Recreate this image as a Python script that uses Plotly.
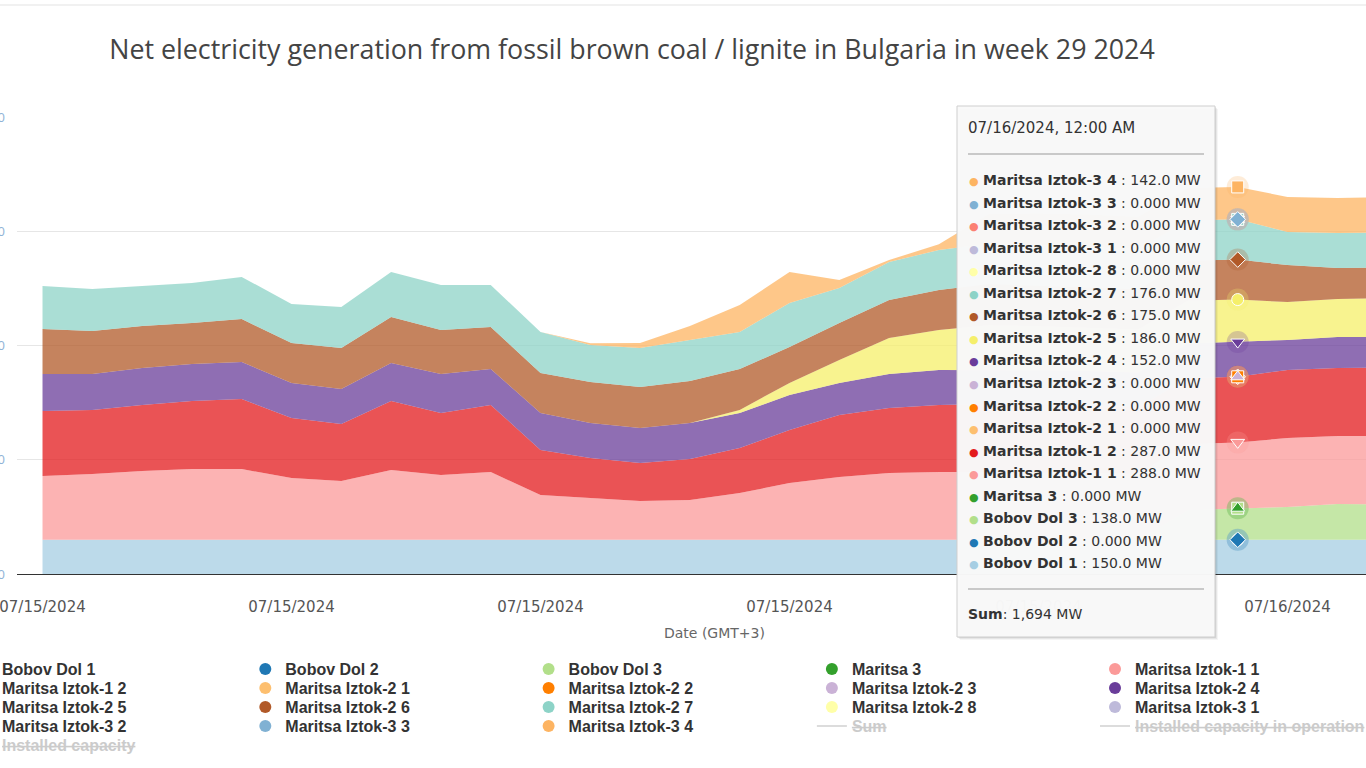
import numpy as np
import pandas as pd
import plotly.graph_objects as go

# ---------------- data (hourly, MW) ----------------
times = pd.date_range("2024-07-15 00:00", periods=28, freq="h")

bobov_dol_1 = [150, 150, 150, 150, 150, 150, 150, 150, 150, 150, 150, 150, 150, 150,
               150, 150, 150, 150, 150, 150, 150, 150, 150, 150, 150, 150, 150, 150]
bobov_dol_2 = [0, 0, 0, 0, 0, 0, 0, 0, 0, 0, 0, 0, 0, 0,
               0, 0, 0, 0, 0, 0, 0, 0, 0, 0, 0, 0, 0, 0]
bobov_dol_3 = [0, 0, 0, 0, 0, 0, 0, 0, 0, 0, 0, 0, 0, 0,
               0, 0, 0, 0, 0, 0, 0, 0, 0, 130, 138, 143, 156, 155]
maritsa_3 = [0, 0, 0, 0, 0, 0, 0, 0, 0, 0, 0, 0, 0, 0,
             0, 0, 0, 0, 0, 0, 0, 0, 0, 0, 0, 0, 0, 0]
iztok1_1 = [279, 288, 301, 309, 309, 270, 257, 305, 283, 296, 196, 183, 169, 174,
            204, 248, 274, 292, 296, 296, 295, 293, 290, 289, 288, 302, 298, 298]
iztok1_2 = [284, 280, 289, 298, 307, 263, 249, 302, 272, 294, 197, 175, 167, 179,
            197, 232, 272, 284, 294, 298, 296, 293, 290, 288, 287, 298, 298, 300]
iztok2_1 = [0, 0, 0, 0, 0, 0, 0, 0, 0, 0, 0, 0, 0, 0,
            0, 0, 0, 0, 0, 0, 0, 0, 0, 0, 0, 0, 0, 0]
iztok2_2 = [0, 0, 0, 0, 0, 0, 0, 0, 0, 0, 0, 0, 0, 0,
            0, 0, 0, 0, 0, 0, 0, 0, 0, 0, 0, 0, 0, 0]
iztok2_3 = [0, 0, 0, 0, 0, 0, 0, 0, 0, 0, 0, 0, 0, 0,
            0, 0, 0, 0, 0, 0, 0, 0, 0, 0, 0, 0, 0, 0]
iztok2_4 = [162, 157, 162, 162, 162, 153, 154, 166, 170, 157, 162, 153, 153, 158,
            154, 153, 140, 149, 153, 150, 151, 152, 152, 152, 152, 131, 135, 135]
iztok2_5 = [0, 0, 0, 0, 0, 0, 0, 0, 0, 0, 0, 0, 0, 0,
            13, 53, 101, 158, 175, 195, 192, 190, 188, 187, 186, 166, 167, 168]
iztok2_6 = [197, 188, 183, 179, 188, 175, 179, 202, 193, 184, 175, 179, 179, 184,
            179, 157, 161, 166, 175, 180, 178, 177, 176, 175, 175, 162, 135, 135]
iztok2_7 = [188, 184, 175, 176, 184, 171, 179, 197, 197, 184, 179, 162, 171, 179,
            162, 193, 154, 166, 175, 176, 176, 176, 176, 176, 176, 145, 153, 153]
iztok2_8 = [0, 0, 0, 0, 0, 0, 0, 0, 0, 0, 0, 0, 0, 0,
            0, 0, 0, 0, 0, 0, 0, 0, 0, 0, 0, 0, 0, 0]
iztok3_1 = [0, 0, 0, 0, 0, 0, 0, 0, 0, 0, 0, 0, 0, 0,
            0, 0, 0, 0, 0, 0, 0, 0, 0, 0, 0, 0, 0, 0]
iztok3_2 = [0, 0, 0, 0, 0, 0, 0, 0, 0, 0, 0, 0, 0, 0,
            0, 0, 0, 0, 0, 0, 0, 0, 0, 0, 0, 0, 0, 0]
iztok3_3 = [0, 0, 0, 0, 0, 0, 0, 0, 0, 0, 0, 0, 0, 0,
            0, 0, 0, 0, 0, 0, 0, 0, 0, 0, 0, 0, 0, 0]
iztok3_4 = [0, 0, 0, 0, 0, 0, 0, 0, 0, 0, 0, 8, 22, 61,
            118, 136, 35, 9, 25, 130, 140, 142, 142, 142, 142, 153, 154, 154]

series_names = ["Bobov Dol 1", "Bobov Dol 2", "Bobov Dol 3", "Maritsa 3",
                "Maritsa Iztok-1 1", "Maritsa Iztok-1 2", "Maritsa Iztok-2 1",
                "Maritsa Iztok-2 2", "Maritsa Iztok-2 3", "Maritsa Iztok-2 4",
                "Maritsa Iztok-2 5", "Maritsa Iztok-2 6", "Maritsa Iztok-2 7",
                "Maritsa Iztok-2 8", "Maritsa Iztok-3 1", "Maritsa Iztok-3 2",
                "Maritsa Iztok-3 3", "Maritsa Iztok-3 4"]
series_values = [bobov_dol_1, bobov_dol_2, bobov_dol_3, maritsa_3, iztok1_1, iztok1_2,
                 iztok2_1, iztok2_2, iztok2_3, iztok2_4, iztok2_5, iztok2_6, iztok2_7,
                 iztok2_8, iztok3_1, iztok3_2, iztok3_3, iztok3_4]
extra_names = ["Sum", "Installed capacity in operation", "Installed capacity"]

y_ticks = [0, 500, 1000, 1500, 2000]
hover_index = 24

# ---------------- styles ----------------
series_colors = ["#a6cee3", "#1f78b4", "#b2df8a", "#33a02c", "#fb9a99", "#e31a1c",
                 "#fdbf6f", "#ff7f00", "#cab2d6", "#6a3d9a", "#f5ef6a", "#b15928",
                 "#8dd3c7", "#ffffa8", "#bebada", "#fb8072", "#80b1d3", "#fdb462"]
symbol_cycle = ["circle", "diamond", "square", "triangle-up", "triangle-down"]

PL, PR, PT, PB = 17, 1366, 117, 574
W, H = 1366, 768


def xp(px):
    return (px - PL) / (PR - PL)


def yp(py):
    return (PB - py) / (PB - PT)


def rgba(hexc, a):
    h = hexc.lstrip("#")
    r, g, b = int(h[0:2], 16), int(h[2:4], 16), int(h[4:6], 16)
    return f"rgba({r},{g},{b},{a})"


fig = go.Figure()

# stacked areas
for name, color, vals in zip(series_names, series_colors, series_values):
    fig.add_trace(go.Scatter(
        x=times, y=vals, name=name, stackgroup="gen", mode="lines",
        line=dict(width=0, color=color), fillcolor=rgba(color, 0.75),
        showlegend=False, hoverinfo="skip"))

# hover markers at the tooltip time
cum = np.cumsum(np.array(series_values, dtype=float), axis=0)
hx = [times[hover_index]] * len(series_names)
hy = [cum[j][hover_index] for j in range(len(series_names))]
symbols = [symbol_cycle[j % 5] for j in range(len(series_names))]
fig.add_trace(go.Scatter(x=hx, y=hy, mode="markers", showlegend=False, hoverinfo="skip",
                         marker=dict(size=22, color=series_colors, opacity=0.25, line=dict(width=0))))
fig.add_trace(go.Scatter(x=hx, y=hy, mode="markers", showlegend=False, hoverinfo="skip",
                         marker=dict(size=12, color=series_colors, symbol=symbols,
                                     line=dict(width=1, color="white"))))

# legend entries: 5 columns x 5 rows
legend_items = [(n, c, "marker") for n, c in zip(series_names, series_colors)] + \
               [(n, "#bbbbbb", "line") for n in extra_names]
totals = cum[-1]
LEG_FS = 16
legend_font = dict(family="Liberation Sans, Arial, sans-serif",
                   size=LEG_FS, color="#333333", weight="bold")
ROW_CENTER0, ROW_STEP = 669, 19
COL_TEXT_X = [2, 285.3, 568.6, 851.9, 1135]
COL_STEP = 283.3
item_h = max(1.3 * LEG_FS, 16) + 3
top_off = 5 + item_h / 2


def legend_id(row, col):
    idx = row + 1 if col < 4 else 6 + row
    return "legend" if idx == 1 else f"legend{idx}"


used = {}
for i, (name, color, kind) in enumerate(legend_items):
    row, col = divmod(i, 5)
    lid = legend_id(row, col)
    used[lid] = (row, 0 if col < 4 else 4)
    if kind == "marker":
        fig.add_trace(go.Scatter(x=[None], y=[None], mode="markers", name=name, legend=lid,
                                 marker=dict(size=12, color=color), hoverinfo="skip"))
    else:
        yv = list(totals) if name == "Sum" else [None]
        xv = list(times) if name == "Sum" else [None]
        fig.add_trace(go.Scatter(x=xv, y=yv, mode="lines", legend=lid, visible="legendonly",
                                 name=f"<span style='color:#999999'><s>{name}</s></span>",
                                 line=dict(color=color, width=2), hoverinfo="skip"))

for lid, (row, col) in used.items():
    fig.update_layout({lid: dict(
        orientation="h", x=xp(COL_TEXT_X[col] - 40), xanchor="left",
        y=yp(ROW_CENTER0 + ROW_STEP * row - top_off), yanchor="top",
        entrywidth=COL_STEP - 45 if col == 0 else None,
        entrywidthmode="pixels", font=legend_font, traceorder="normal",
        bgcolor="rgba(0,0,0,0)", borderwidth=0, itemclick=False, itemdoubleclick=False)})

# ---------------- tooltip ----------------
TX0, TX1, TY0, TY1 = 957, 1215, 106, 637
shapes = []
for k, a in [(3, 0.04), (2, 0.06), (1, 0.08)]:
    shapes.append(dict(type="rect", xref="paper", yref="paper", layer="above",
                       x0=xp(TX0 + k), x1=xp(TX1 + k), y0=yp(TY1 + k), y1=yp(TY0 + k),
                       fillcolor=f"rgba(0,0,0,{a})", line=dict(width=0)))
shapes.append(dict(type="rect", xref="paper", yref="paper", layer="above",
                   x0=xp(TX0), x1=xp(TX1), y0=yp(TY1), y1=yp(TY0),
                   fillcolor="rgba(249,249,249,0.98)", line=dict(width=1, color="#cfcfcf")))
for ly in (154, 589):
    shapes.append(dict(type="line", xref="paper", yref="paper", layer="above",
                       x0=xp(968), x1=xp(1204), y0=yp(ly), y1=yp(ly),
                       line=dict(width=1, color="#9a9a9a")))
# top border of the container
shapes.append(dict(type="line", xref="paper", yref="paper", x0=xp(0), x1=xp(W), y0=yp(5), y1=yp(5),
                   line=dict(width=1, color="#e3e3e3")))

tt_font = dict(family="DejaVu Sans, Verdana, sans-serif", size=14, color="#333333")
annotations = []
annotations.append(dict(xref="paper", yref="paper", x=xp(966), y=yp(128), xanchor="left",
                        yanchor="middle", showarrow=False, font=dict(tt_font, size=15),
                        text=times[hover_index].strftime("%m/%d/%Y, %I:%M %p")))
order = list(range(len(series_names)))[::-1]
for r_i, j in enumerate(order):
    v = series_values[j][hover_index]
    txt = (f"<span style='color:{series_colors[j]};font-size:11px'>●</span> "
           f"<b>{series_names[j]}</b> : {format(float(v), '#.4g')} MW")
    annotations.append(dict(xref="paper", yref="paper", x=xp(967), y=yp(180 + 22.55 * r_i),
                            xanchor="left", yanchor="middle", showarrow=False,
                            font=tt_font, text=txt))
annotations.append(dict(xref="paper", yref="paper", x=xp(966), y=yp(614), xanchor="left",
                        yanchor="middle", showarrow=False, font=tt_font,
                        text=f"<b>Sum</b>: {totals[hover_index]:,.0f} MW"))
# x axis title
annotations.append(dict(xref="paper", yref="paper", x=xp(714), y=yp(633), xanchor="center",
                        yanchor="middle", showarrow=False,
                        font=dict(family="DejaVu Sans, sans-serif", size=14, color="#666666"),
                        text="Date (GMT+3)"))

fig.update_layout(
    width=W, height=H,
    margin=dict(l=PL, r=W - PR, t=PT, b=H - PB, autoexpand=False),
    paper_bgcolor="white", plot_bgcolor="white",
    hovermode=False,
    title=dict(text="Net electricity generation from fossil brown coal / lignite in Bulgaria in week 29 2024",
               x=632 / W, xref="container", xanchor="center",
               y=1 - 50 / H, yref="container", yanchor="middle",
               font=dict(family="Open Sans, sans-serif", size=26.8, color="#444444")),
    xaxis=dict(type="date",
               range=["2024-07-14 23:29:16", "2024-07-16 02:34:34"],
               tick0="2024-07-15 00:00", dtick=5 * 3600 * 1000, tickformat="%m/%d/%Y",
               showgrid=False, zeroline=False, showline=True, linecolor="#333333", linewidth=1,
               ticks="", ticklabeloverflow="allow", ticklabelstandoff=19,
               tickfont=dict(family="DejaVu Sans, sans-serif", size=15, color="#555555")),
    yaxis=dict(range=[0, 2000], tickvals=y_ticks, tickformat=",",
               showgrid=True, gridcolor="#e6e6e6", gridwidth=1, zeroline=False, showline=False,
               ticks="", ticklabeloverflow="allow", ticklabelstandoff=11,
               tickfont=dict(family="Open Sans, sans-serif", size=13, color="#8fb3d6")),
    shapes=shapes, annotations=annotations,
)

fig.write_html("out.html")
